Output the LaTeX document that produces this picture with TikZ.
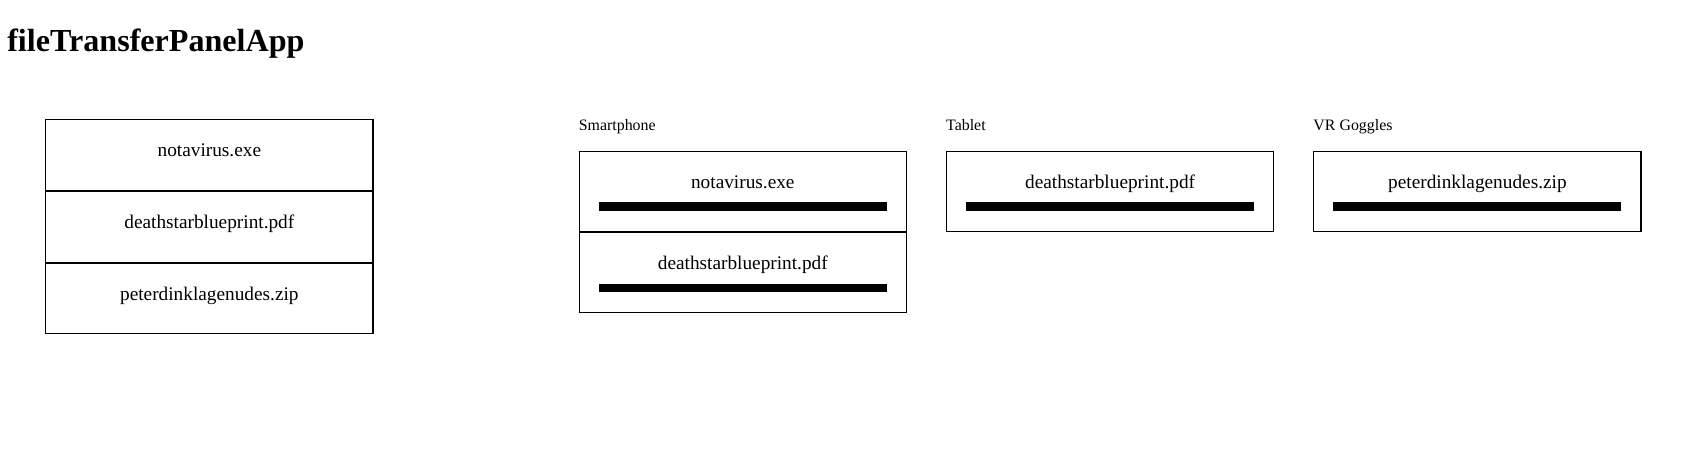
\documentclass[tikz,border=0pt]{standalone}
\usepackage{fontspec}
\setmainfont{Liberation Serif}
\usetikzlibrary{positioning}

\begin{document}
\begin{tikzpicture}[
    x=1pt, y=-1pt,
    node distance=0pt,
    title/.style={anchor=base west, inner sep=0pt, font=\fontsize{32.1}{38}\selectfont\bfseries},
    item/.style={rectangle, draw, line width=1.1pt, minimum width=327.2pt, inner xsep=0pt, inner ysep=0pt, font=\fontsize{19.3}{23}\selectfont},
    file/.style={item, text height=36.85pt, text depth=33.75pt},
    transfer/.style={item, text height=37.25pt, text depth=42.85pt},
    bar/.style={rectangle, fill=black, minimum width=288pt, minimum height=8.4pt, inner sep=0pt, outer sep=0pt},
    device/.style={inner sep=0pt, text depth=0pt, font=\fontsize{15.9}{19}\selectfont}
]
    \useasboundingbox (0,0) rectangle (1686,448);

    \node[title] (title) at (7.1,51.7) {fileTransferPanelApp};

    % File list
    \node[file, anchor=north west] (file1) at (45.2,119.3) {notavirus.exe};
    \node[file, below=of file1] (file2) {deathstarblueprint.pdf};
    \node[file, below=of file2] (file3) {peterdinklagenudes.zip};

    % Transfer panels
    \node[transfer, anchor=north west] (phone1) at (578.65,150.5) {notavirus.exe};
    \node[transfer, below=of phone1] (phone2) {deathstarblueprint.pdf};
    \node[transfer, right=39pt of phone1] (tablet1) {deathstarblueprint.pdf};
    \node[transfer, right=39pt of tablet1] (goggles1) {peterdinklagenudes.zip};

    % Progress bars
    \node[bar, below=51.8pt of phone1.north] (phonebar1) {};
    \node[bar, below=51.8pt of phone2.north] (phonebar2) {};
    \node[bar, below=51.8pt of tablet1.north] (tabletbar1) {};
    \node[bar, below=51.8pt of goggles1.north] (gogglesbar1) {};

    % Device labels
    \node[device, above right=19.5pt and 0pt of phone1.north west] (phone) {Smartphone};
    \node[device, above right=19.5pt and 0pt of tablet1.north west] (tablet) {Tablet};
    \node[device, above right=19.5pt and 0pt of goggles1.north west] (goggles) {VR Goggles};
\end{tikzpicture}
\end{document}
